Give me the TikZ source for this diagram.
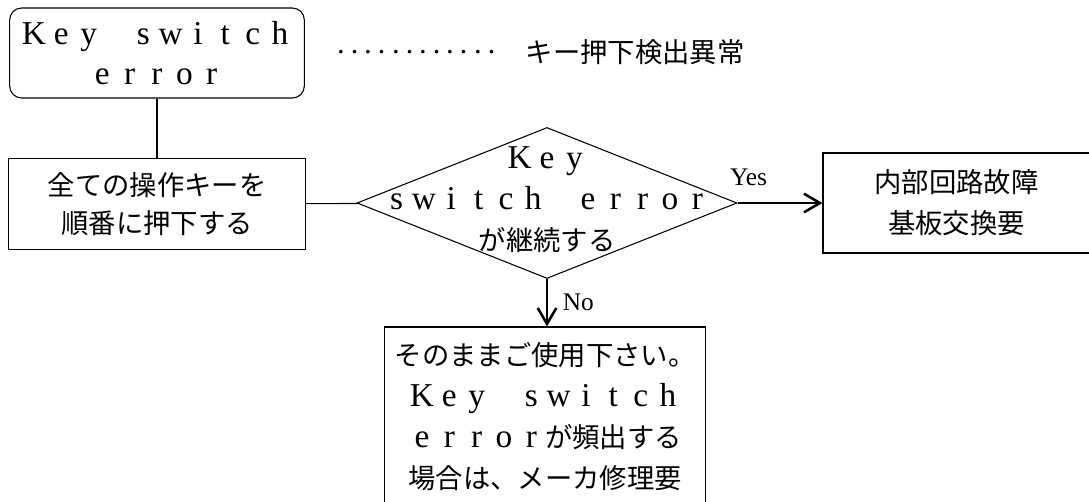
\documentclass[tikz,border=0pt]{standalone}
\usepackage{fontspec}
\setmainfont{Liberation Serif}
\newfontfamily\jp{Noto Sans CJK JP}
\usetikzlibrary{shapes.geometric,arrows.meta}
% full-width latin letters, one em each
\newcommand\spaced[1]{\spacedloop#1\relax}
\def\spacedloop#1{\ifx#1\relax\else\makebox[20.5pt]{\rmfamily\fontsize{25}{25}\selectfont#1}\expandafter\spacedloop\fi}

\begin{document}
\begin{tikzpicture}[x=0.75pt,y=-0.75pt,line width=0.8pt,
    txt/.style={font=\jp\fontsize{20.5}{30}\selectfont,align=center,inner sep=0pt},
    boxed/.style={draw,rectangle,txt},
    flow/.style={line width=1.9pt,-{Straight Barb[length=12pt,width=14pt]}},
    yesno/.style={font=\fontsize{19}{19}\selectfont,inner sep=0pt}]
  \useasboundingbox (0,0) rectangle (1089,502);
  \node[boxed,rounded corners=9pt,minimum width=221pt,minimum height=67.5pt](start)at(157,53){\spaced{Key~switch}\\\spaced{error}};
  \node[txt,anchor=west](note)at(334,52){‥‥‥‥‥‥　キー押下検出異常};
  \node[boxed,minimum width=222.75pt,minimum height=68.25pt,font=\jp\fontsize{20.5}{28}\selectfont](press)at(157,204){全ての操作キーを\\順番に押下する};
  \node[diamond,draw,minimum width=285pt,minimum height=113.25pt,inner sep=0pt](check)at(547,203){};
  \node[txt,font=\jp\fontsize{20.5}{30.75}\selectfont](checktext)at(547,200){\spaced{Key}\\\spaced{switch~error}\\が継続する};
  \node[boxed,minimum width=200.25pt,minimum height=75pt,font=\jp\fontsize{20.5}{30.75}\selectfont](fault)at(956.5,203){内部回路故障\\基板交換要};
  \node[boxed,minimum width=240.75pt,minimum height=134.25pt,font=\jp\fontsize{20.5}{30.75}\selectfont](keep)at(545,416.5){そのままご使用下さい。\\\spaced{Key~switch}\\\spaced{error}が頻出する\\場合は、メーカ修理要};
  \draw (start) -- (press);
  \draw (press) -- (check);
  \draw[flow] (check.east) -- node[yesno,pos=0.13,above=12pt]{Yes} (fault.west);
  \draw[flow] (check.south) -- node[yesno,right=11pt]{No} (check.south |- keep.north);
\end{tikzpicture}
\end{document}
